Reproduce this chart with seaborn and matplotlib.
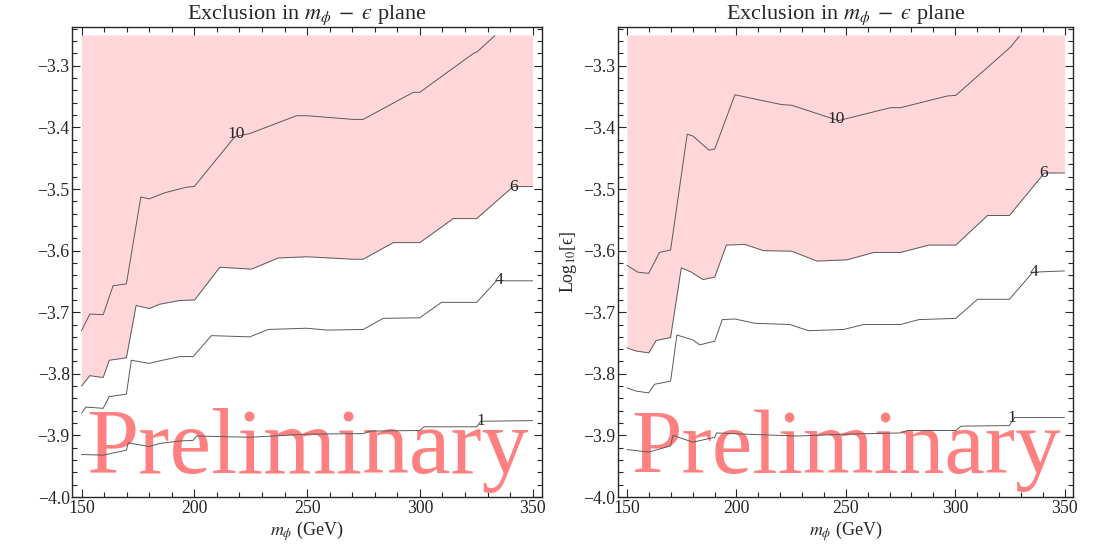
import numpy as np
import matplotlib
matplotlib.use("Agg")
import matplotlib.pyplot as plt
from matplotlib.ticker import MultipleLocator, FuncFormatter
import seaborn as sns

# contour levels (m_phi in GeV, log10 eps)
levels = ["10", "6", "4", "1"]

# ---- left panel ----
left_x10 = [150, 153.7, 159.6, 164, 169.9, 176.3, 180, 187, 196.6, 200, 218, 224.6, 245.3, 249.8,
            270.5, 274.9, 297.1, 300, 323.7, 325.5, 333.3]
left_y10 = [-3.730, -3.703, -3.704, -3.657, -3.654, -3.513, -3.516, -3.506, -3.497, -3.496, -3.415,
            -3.410, -3.381, -3.381, -3.387, -3.387, -3.343, -3.343, -3.280, -3.277, -3.251]
left_x6 = [150, 153.7, 159.6, 162.3, 169.9, 174.2, 180, 184.7, 193.6, 200.2, 211.3, 225.4, 237.2,
           249.8, 270.5, 274.9, 288.2, 300, 314.8, 325.2, 341.4, 350]
left_y6 = [-3.820, -3.803, -3.806, -3.778, -3.774, -3.689, -3.694, -3.687, -3.681, -3.680, -3.627,
           -3.630, -3.612, -3.610, -3.614, -3.614, -3.587, -3.587, -3.548, -3.548, -3.496, -3.496]
left_x4 = [150, 151.9, 159.6, 162.3, 169.9, 172.1, 180, 184.7, 193.6, 199.5, 207.6, 224.6, 232.8,
           249.8, 258.7, 274.9, 283.8, 300, 309.6, 325.2, 334, 350]
left_y4 = [-3.864, -3.854, -3.856, -3.837, -3.833, -3.778, -3.783, -3.779, -3.772, -3.772, -3.738,
           -3.740, -3.728, -3.726, -3.729, -3.728, -3.710, -3.709, -3.684, -3.684, -3.649, -3.649]
left_x1 = [150, 159.6, 169.9, 170.7, 180, 184.7, 193.6, 199.5, 201, 224.6, 249.8, 274.9, 277.9,
           300, 301.9, 325.2, 327, 350]
left_y1 = [-3.931, -3.932, -3.924, -3.912, -3.918, -3.913, -3.909, -3.908, -3.901, -3.903, -3.898,
           -3.897, -3.893, -3.892, -3.886, -3.886, -3.877, -3.876]

# ---- right panel ----
right_x10 = [150, 154.9, 159.9, 164.8, 169.9, 177.5, 180.1, 187.5, 190.1, 199.3, 220.7, 225.3,
             246.7, 270.4, 275.0, 296.4, 300.3, 325.5, 329.3]
right_y10 = [-3.624, -3.635, -3.637, -3.603, -3.599, -3.411, -3.414, -3.437, -3.435, -3.347, -3.363,
             -3.364, -3.389, -3.368, -3.368, -3.349, -3.348, -3.269, -3.252]
right_x6 = [150, 154.1, 159.9, 163.3, 169.9, 174.8, 179.4, 184.7, 190.1, 195.4, 203.9, 212.3, 225.3,
            236.8, 250.5, 262.8, 275.0, 288.0, 300.3, 314.8, 324.8, 340.8, 350]
right_y6 = [-3.758, -3.763, -3.766, -3.746, -3.741, -3.628, -3.635, -3.647, -3.643, -3.591, -3.590,
            -3.600, -3.601, -3.617, -3.615, -3.603, -3.603, -3.591, -3.591, -3.543, -3.543, -3.474,
            -3.474]
right_x4 = [150, 154.1, 159.9, 162.5, 169.9, 172.8, 180.1, 183.2, 190.1, 193.5, 199.3, 208.5, 224.5,
            232.9, 249.0, 258.2, 275.0, 283.4, 300.3, 310.2, 324.8, 335.5, 350]
right_y4 = [-3.823, -3.828, -3.831, -3.817, -3.812, -3.737, -3.745, -3.753, -3.747, -3.712, -3.711,
            -3.718, -3.720, -3.730, -3.728, -3.720, -3.720, -3.712, -3.710, -3.679, -3.679, -3.635,
            -3.633]
right_x1 = [150, 159.9, 169.9, 171.0, 180.1, 190.1, 190.9, 204.6, 227.6, 249.0, 275.0, 278.1,
            300.3, 302.6, 324.8, 327.1, 350]
right_y1 = [-3.923, -3.927, -3.917, -3.900, -3.911, -3.903, -3.896, -3.898, -3.901, -3.898, -3.896,
            -3.892, -3.892, -3.885, -3.884, -3.871, -3.871]

# where the level numbers sit on each line
left_label_pos = [(218.5, -3.410), (341.5, -3.496), (335, -3.648), (327, -3.876)]
right_label_pos = [(245.5, -3.387), (340.5, -3.474), (336, -3.634), (326, -3.872)]

sns.set_style("ticks")
plt.rcParams['font.family'] = ['Liberation Serif', 'DejaVu Serif']
plt.rcParams['mathtext.fontset'] = 'stix'

PINK = '#ffd6d9'
LINE = '#5a5a5a'
TEXT_RED = '#ff8080'

minus_fmt = FuncFormatter(lambda v, p: f"{v:.1f}".replace('-', '\u2212'))


def draw_panel(ax, curves, fill_x, fill_y, label_pos, prelim_size):
    ax.fill_between(fill_x, fill_y, -3.25, color=PINK, lw=0, zorder=0)
    ax.text(250, -3.961, 'Preliminary', color=TEXT_RED, fontsize=prelim_size,
            ha='center', va='baseline', zorder=1)
    for x, y in curves:
        sns.lineplot(x=x, y=y, ax=ax, sort=False, estimator=None, color=LINE, lw=0.7, zorder=2)
    for lab, (lx, ly) in zip(levels, label_pos):
        ax.text(lx, ly, lab, fontsize=12.5, ha='center', va='center', zorder=3)

    ax.set_xlim(146, 354)
    ax.set_ylim(-4.0, -3.2375)
    ax.xaxis.set_major_locator(MultipleLocator(50))
    ax.xaxis.set_minor_locator(MultipleLocator(10))
    ax.yaxis.set_major_locator(MultipleLocator(0.1))
    ax.yaxis.set_minor_locator(MultipleLocator(0.02))
    ax.yaxis.set_major_formatter(minus_fmt)
    ax.tick_params(which='both', direction='in', top=True, right=True, width=0.8, labelsize=12.8, pad=2)
    ax.tick_params(which='major', length=6)
    ax.tick_params(which='minor', length=3.5)
    for s in ax.spines.values():
        s.set_linewidth(1.0)
    ax.set_title('Exclusion in $m_\\phi\\;-\\;\u03f5$ plane', fontsize=16, pad=4)
    ax.set_xlabel(r'$m_\phi$ (GeV)', fontsize=13, labelpad=2)


fig = plt.figure(figsize=(11, 5.46), dpi=100)
ax1 = fig.add_axes([0.0659, 0.0897, 0.4265, 0.8603])
ax2 = fig.add_axes([0.5621, 0.0897, 0.4136, 0.8603])

draw_panel(ax1, [(left_x10, left_y10), (left_x6, left_y6), (left_x4, left_y4), (left_x1, left_y1)],
           left_x6, left_y6, left_label_pos, 67.5)
draw_panel(ax2, [(right_x10, right_y10), (right_x6, right_y6), (right_x4, right_y4), (right_x1, right_y1)],
           right_x6, right_y6, right_label_pos, 65.5)
ax2.set_ylabel('Log$_{10}$[\u03f5]', fontsize=13, labelpad=3)

fig.savefig('out.png', dpi=100)
